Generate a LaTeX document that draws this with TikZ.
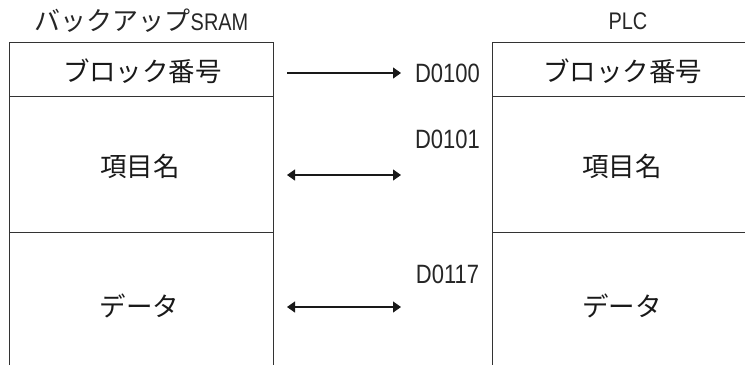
\documentclass[tikz,border=0pt]{standalone}
\usepackage{fontspec}
\setmainfont{Liberation Sans}[FakeStretch=0.83]
\newfontfamily\cjk{Noto Sans CJK JP}
\usetikzlibrary{arrows.meta}
\begin{document}
\begin{tikzpicture}[x=1pt,y=-1pt,
  frame/.style={line width=0.9pt,draw=black!80},
  jp/.style={inner sep=0pt,font=\cjk\fontsize{26.5}{30}\selectfont,text=black!90},
  lbl/.style={inner sep=0pt,font=\fontsize{26.5}{30}\selectfont,text=black!85},
  ttl/.style={inner sep=0pt,font=\fontsize{24}{28}\selectfont,text=black!85},
  conn/.style={line width=1.1pt,draw=black!90},
  tipstyle/.style={}]
\useasboundingbox (0,0) rectangle (745,365);
% left box
\draw[frame] (9,365) -- (9,42) -- (273,42) -- (273,365);
\draw[frame] (9,96) -- (273,96);
\draw[frame] (9,232) -- (273,232);
% right box
\draw[frame] (745,42) -- (492,42) -- (492,365);
\draw[frame] (492,96) -- (745,96);
\draw[frame] (492,232) -- (745,232);
% titles
\node[ttl] (tL) at (141.5,20.5) {{\cjk\fontsize{26}{30}\selectfont バックアップ}SRAM};
\node[ttl] (tR) at (628,21.5) {PLC};
% texts
\node[jp] (bL) at (142.5,71.5) {ブロック番号};
\node[jp] (bR) at (622.5,71.5) {ブロック番号};
\node[jp] (kL) at (140,166) {項目名};
\node[jp] (kR) at (622,166) {項目名};
\node[jp] (dL) at (139.5,305.5) {データ};
\node[jp] (dR) at (622,305.5) {データ};
\node[lbl] (a1) at (447.5,73) {D0100};
\node[lbl] (a2) at (447.5,139.5) {D0101};
\node[lbl] (a3) at (447.5,274.5) {D0117};
% connectors
\coordinate (s1) at (287,73);  \coordinate (e1) at (401,73);
\coordinate (s2) at (287,175); \coordinate (e2) at (401,175);
\coordinate (s3) at (287,307); \coordinate (e3) at (401,307);
\draw[conn,-{Triangle[length=8pt,width=11pt]}] (s1) -- (e1);
\draw[conn,{Triangle[length=8pt,width=11pt]}-{Triangle[length=8pt,width=11pt]}] (s2) -- (e2);
\draw[conn,{Triangle[length=8pt,width=11pt]}-{Triangle[length=8pt,width=11pt]}] (s3) -- (e3);
\end{tikzpicture}
\end{document}
